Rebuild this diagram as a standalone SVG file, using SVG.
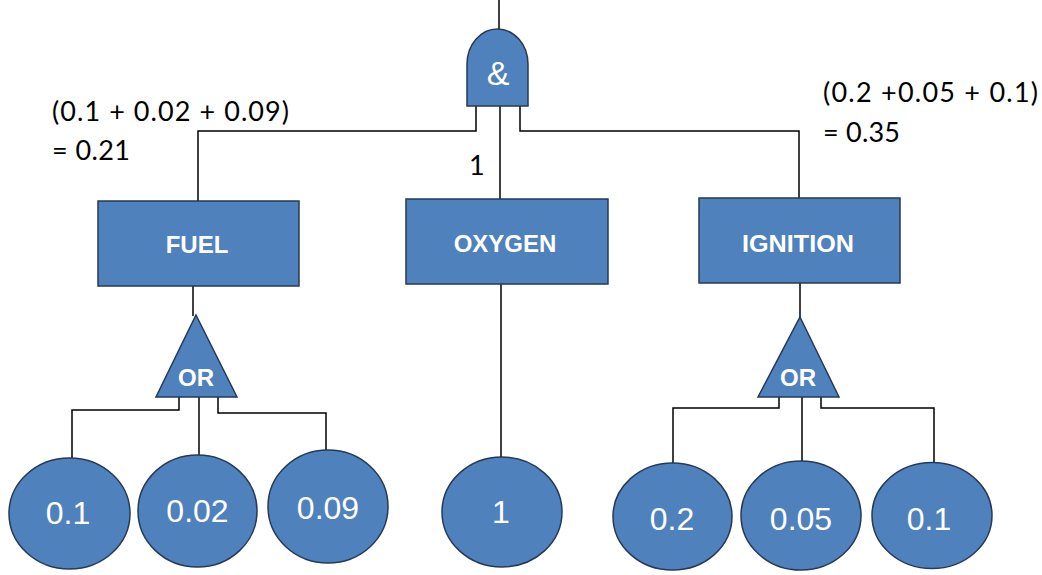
<svg xmlns="http://www.w3.org/2000/svg" width="1042" height="575" viewBox="0 0 1042 575">
<style>
.sh{fill:#4F81BD;stroke:#263a56;stroke-width:1.5}
.ln{fill:none;stroke:#000;stroke-width:1.5}
.lbl{font-family:"Liberation Sans",Arial,sans-serif;font-weight:bold;font-size:24px;fill:#fff;text-anchor:middle}
.num{font-family:"Liberation Sans",Arial,sans-serif;font-size:32px;fill:#fff;text-anchor:middle}
.note{font-family:Lato,"Liberation Sans",Arial,sans-serif;font-size:27px;fill:#000}
</style>
<rect width="1042" height="575" fill="#fff"/>
<g id="connectors">
<path class="ln" d="M499,0 V30"/>
<path class="ln" d="M476,106 V131 H198 V201"/>
<path class="ln" d="M500,106 V199"/>
<path class="ln" d="M520,106 V131 H799 V198"/>
<path class="ln" d="M193,286 V316"/>
<path class="ln" d="M501,284 V457"/>
<path class="ln" d="M800,283 V317"/>
<path class="ln" d="M179,397 V410 H72 V458"/>
<path class="ln" d="M199,397 V455"/>
<path class="ln" d="M218,397 V413 H326 V450"/>
<path class="ln" d="M779,397 V408 H673 V463"/>
<path class="ln" d="M802,397 V461"/>
<path class="ln" d="M821,397 V408 H934 V463"/>
</g>
<g id="and-gate">
<path class="sh" d="M467,106 V64 A30.5,35 0 0 1 528,64 V106 Z"/>
<text x="498" y="85" font-family="Liberation Sans,Arial,sans-serif" font-size="34" fill="#fff" text-anchor="middle">&amp;</text>
</g>
<g id="fuel">
<rect class="sh" x="98" y="201" width="201" height="85"/>
<text class="lbl" x="197" y="253">FUEL</text>
</g>
<g id="oxygen">
<rect class="sh" x="406" y="199" width="202" height="85"/>
<text class="lbl" x="505" y="251.5">OXYGEN</text>
</g>
<g id="ignition">
<rect class="sh" x="699" y="198" width="201" height="85"/>
<text class="lbl" x="798" y="251.5" textLength="112" lengthAdjust="spacingAndGlyphs">IGNITION</text>
</g>
<g id="or-fuel">
<path class="sh" d="M196,315 L237,397 L156,397 Z"/>
<text class="lbl" x="196" y="386">OR</text>
</g>
<g id="or-ignition">
<path class="sh" d="M800,317 L839,397 L758,397 Z"/>
<text class="lbl" x="798" y="386">OR</text>
</g>
<g id="e-fuel-1">
<ellipse class="sh" cx="69.5" cy="513.5" rx="60.5" ry="55.5"/>
<text class="num" x="68" y="524">0.1</text>
</g>
<g id="e-fuel-2">
<ellipse class="sh" cx="197.5" cy="511" rx="59.5" ry="56"/>
<text class="num" x="197.5" y="522">0.02</text>
</g>
<g id="e-fuel-3">
<ellipse class="sh" cx="328" cy="506.5" rx="60" ry="56.5"/>
<text class="num" x="328" y="519">0.09</text>
</g>
<g id="e-oxygen">
<ellipse class="sh" cx="502" cy="512" rx="60" ry="55"/>
<text class="num" x="501" y="523">1</text>
</g>
<g id="e-ign-1">
<ellipse class="sh" cx="672.5" cy="516.5" rx="59.5" ry="53.5"/>
<text class="num" x="672" y="530">0.2</text>
</g>
<g id="e-ign-2">
<ellipse class="sh" cx="801" cy="515.5" rx="60" ry="54.5"/>
<text class="num" x="801" y="530">0.05</text>
</g>
<g id="e-ign-3">
<ellipse class="sh" cx="932" cy="515.5" rx="60" ry="53"/>
<text class="num" x="929" y="530">0.1</text>
</g>
<g id="notes">
<text class="note" x="52" y="121" textLength="237" lengthAdjust="spacing">(0.1 + 0.02 + 0.09)</text>
<text class="note" x="52" y="160" textLength="78" lengthAdjust="spacing">= 0.21</text>
<text class="note" x="823" y="102" textLength="215" lengthAdjust="spacing">(0.2 +0.05 + 0.1)</text>
<text class="note" x="823" y="142" textLength="77" lengthAdjust="spacing">= 0.35</text>
<text class="note" x="469" y="175">1</text>
</g>
</svg>
